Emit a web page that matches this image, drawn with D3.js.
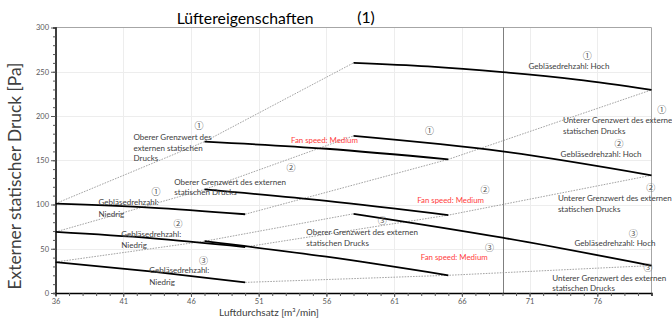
<!DOCTYPE html>
<html><head><meta charset="utf-8">
<script src="https://cdn.jsdelivr.net/npm/d3@7/dist/d3.min.js"></script>
<style>body{margin:0;background:#fff} svg{display:block}</style>
</head><body>
<svg id="chart" width="672" height="318"></svg>
<script>
// ---------- data ----------
const xTicks = [36, 41, 46, 51, 56, 61, 66, 71, 76];
const yTicks = [0, 50, 100, 150, 200, 250, 300];
const xDomain = [36, 80];
const yDomain = [0, 300];
const markerX = 69;

// fan curves (airflow m³/min, pressure Pa) for tap ①②③
const fanLow = [
  [[36, 101], [43, 96.5], [50, 89]],
  [[36, 69], [43, 62], [50, 52]],
  [[36, 35], [43, 24.5], [50, 12]]
];
const fanMedium = [
  [[47, 171], [56, 163], [65, 151]],
  [[47, 117], [56, 104], [65, 88]],
  [[47, 58.5], [56, 41], [65, 20]]
];
const fanHigh = [
  [[58, 260], [63.5, 256], [69, 249.5], [74.5, 241], [80, 229.5]],
  [[58, 177.5], [69, 160], [80, 133]],
  [[58, 89.5], [69, 62.5], [80, 31]]
];

// annotations: [text, x, y, kind]  kind: n = circled number, t = grey text, r = red text
const annotations = [
  ["①", 46.6, 188.6, "n"],
  ["Oberer Grenzwert des", 41.76, 176.4, "t"],
  ["externen statischen", 41.76, 163.9, "t"],
  ["Drucks", 41.76, 152.6, "t"],
  ["Fan speed: Medium", 53.39, 172.1, "r"],
  ["①", 63.61, 182.9, "n"],
  ["①", 75.26, 268.4, "n"],
  ["Gebläsedrehzahl: Hoch", 70.92, 256, "t"],
  ["①", 80.75, 207, "n"],
  ["Unterer Grenzwert des externen", 73.46, 195, "t"],
  ["statischen Drucks", 73.46, 182.6, "t"],
  ["②", 77.6, 168.7, "n"],
  ["Gebläsedrehzahl: Hoch", 73.29, 157.4, "t"],
  ["②", 53.39, 141.1, "n"],
  ["Oberer Grenzwert des externen", 44.77, 125, "t"],
  ["statischen Drucks", 44.77, 114.3, "t"],
  ["①", 43.42, 114.5, "n"],
  ["Gebläsedrehzahl:", 39.18, 102.1, "t"],
  ["Niedrig", 39.18, 88.5, "t"],
  ["②", 45.04, 78.2, "n"],
  ["Gebläsedrehzahl:", 40.85, 66.3, "t"],
  ["Niedrig", 40.85, 53.9, "t"],
  ["③", 46.93, 36.8, "n"],
  ["Gebläsedrehzahl:", 42.92, 25.6, "t"],
  ["Niedrig", 42.92, 12.4, "t"],
  ["②", 67.7, 116, "n"],
  ["Fan speed: Medium", 62.7, 104.7, "r"],
  ["③", 60.12, 81, "n"],
  ["Oberer Grenzwert des externen", 54.52, 68.2, "t"],
  ["statischen Drucks", 54.52, 55.8, "t"],
  ["③", 68.04, 50.8, "n"],
  ["Fan speed: Medium", 62.97, 40, "r"],
  ["②", 79.94, 118.3, "n"],
  ["Unterer Grenzwert des externen", 73.09, 106.6, "t"],
  ["statischen Drucks", 73.09, 94.2, "t"],
  ["③", 78.66, 67.1, "n"],
  ["Gebläsedrehzahl: Hoch", 74.32, 55.8, "t"],
  ["③", 79.74, 28, "n"],
  ["Unterer Grenzwert des externen", 72.68, 16.9, "t"],
  ["statischen Drucks", 72.68, 5.6, "t"]
];

const titleText = "Lüftereigenschaften";
const titleNote = "(1)";
const xLabel = "Luftdurchsatz [m³/min]";
const yLabel = "Externer statischer Druck [Pa]";

// ---------- drawing ----------
const svg = d3.select("#chart");
const L = 55.5, R = 651.5, T = 27.5, B = 293;
const x = d3.scaleLinear().domain(xDomain).range([L, R]);
const y = d3.scaleLinear().domain(yDomain).range([B, T]);
const FONT = "Lato, 'Open Sans', sans-serif";

function fitFont(sel, target) {
  const len = sel.node().getComputedTextLength();
  const fs = parseFloat(sel.attr("font-size"));
  return fs * target / len;
}

// grid
svg.append("g").selectAll("line").data(xTicks.slice(1)).join("line")
  .attr("x1", d => Math.round(x(d)) + 0.5).attr("x2", d => Math.round(x(d)) + 0.5)
  .attr("y1", T).attr("y2", B).attr("stroke", "#ededed").attr("stroke-width", 1);
svg.append("g").selectAll("line").data(yTicks.slice(1, -1)).join("line")
  .attr("x1", L).attr("x2", R)
  .attr("y1", d => Math.round(y(d)) + 0.5).attr("y2", d => Math.round(y(d)) + 0.5)
  .attr("stroke", "#ededed").attr("stroke-width", 1);

// frame top & right
svg.append("line").attr("x1", L).attr("x2", R).attr("y1", T).attr("y2", T)
  .attr("stroke", "#a6a6a6").attr("stroke-width", 1);
svg.append("line").attr("x1", R).attr("x2", R).attr("y1", T).attr("y2", B)
  .attr("stroke", "#a6a6a6").attr("stroke-width", 1);

// marker vertical line
svg.append("line").attr("x1", Math.round(x(markerX)) + 0.5).attr("x2", Math.round(x(markerX)) + 0.5)
  .attr("y1", T).attr("y2", B).attr("stroke", "#7f7f7f").attr("stroke-width", 1);

// axes
const xMinor = d3.range(xDomain[0], xDomain[1] + 1, 1);
const yMinor = d3.range(yDomain[0], yDomain[1] + 1, 10);
const xAxis = svg.append("g").attr("transform", `translate(0,${B})`)
  .call(d3.axisBottom(x).tickValues(xMinor).tickSize(3).tickFormat(""));
xAxis.select(".domain").attr("stroke", "#000").attr("stroke-width", 1.5);
xAxis.selectAll(".tick line").attr("stroke", "#595959");
const xAxisLab = svg.append("g").attr("transform", `translate(0,${B})`)
  .call(d3.axisBottom(x).tickValues(xTicks).tickSize(4).tickPadding(2).tickFormat(d3.format("d")));
xAxisLab.select(".domain").remove();
xAxisLab.selectAll(".tick line").attr("stroke", "#595959");
xAxisLab.selectAll("text").attr("font-family", FONT).attr("font-size", 7.5).attr("fill", "#595959");

const yAxis = svg.append("g").attr("transform", `translate(${L},0)`)
  .call(d3.axisLeft(y).tickValues(yMinor).tickSize(2.5).tickFormat(""));
yAxis.select(".domain").attr("stroke", "#000").attr("stroke-width", 1.5);
yAxis.selectAll(".tick line").attr("stroke", "#595959");
const yAxisLab = svg.append("g").attr("transform", `translate(${L},0)`)
  .call(d3.axisLeft(y).tickValues(yTicks).tickSize(4.5).tickPadding(2).tickFormat(d3.format("d")));
yAxisLab.select(".domain").remove();
yAxisLab.selectAll(".tick line").attr("stroke", "#595959");
yAxisLab.selectAll("text").attr("font-family", FONT).attr("font-size", 7.5).attr("fill", "#595959");

// limit lines (dashed) connecting curve ends
const upperLimits = fanLow.map((c, i) => [fanLow[i][0], fanMedium[i][0], fanHigh[i][0]]);
const lowerLimits = fanLow.map((c, i) => [fanLow[i][fanLow[i].length - 1],
  fanMedium[i][fanMedium[i].length - 1], fanHigh[i][fanHigh[i].length - 1]]);
const straight = d3.line().x(d => x(d[0])).y(d => y(d[1]));
svg.append("g").selectAll("path").data(upperLimits.concat(lowerLimits)).join("path")
  .attr("d", straight).attr("fill", "none").attr("stroke", "#8c8c8c")
  .attr("stroke-width", 0.8).attr("stroke-dasharray", "1.6,1.2");

// fan curves
const curve = d3.line().x(d => x(d[0])).y(d => y(d[1])).curve(d3.curveMonotoneX);
svg.append("g").selectAll("path").data(fanLow.concat(fanMedium, fanHigh)).join("path")
  .attr("d", curve).attr("fill", "none").attr("stroke", "#000").attr("stroke-width", 1.8);

// annotations
const gA = svg.append("g");
const probeT = gA.append("text").attr("font-family", FONT).attr("font-size", 10).text("Gebläsedrehzahl: Hoch");
const fsT = fitFont(probeT, 81); probeT.remove();
const probeR = gA.append("text").attr("font-family", FONT).attr("font-size", 10).text("Fan speed: Medium");
const fsR = fitFont(probeR, 67); probeR.remove();

annotations.forEach(([txt, ax, ay, kind]) => {
  const t = gA.append("text").attr("x", x(ax)).attr("y", y(ay)).attr("dy", "0.35em").text(txt);
  if (kind === "n") {
    t.attr("text-anchor", "middle").attr("font-family", "'Noto Sans CJK JP', 'DejaVu Sans', sans-serif")
      .attr("font-size", 9).attr("font-weight", 400).attr("fill", "#505050");
  } else if (kind === "r") {
    t.attr("font-family", FONT).attr("font-size", fsR).attr("fill", "#ff3c3c");
  } else {
    t.attr("font-family", FONT).attr("font-size", fsT).attr("fill", "#404040");
  }
});

// titles
const tt = svg.append("text").attr("x", 176.7).attr("y", 18).attr("dy", "0.35em")
  .attr("font-family", FONT).attr("font-size", 15).attr("fill", "#000").text(titleText);
tt.attr("font-size", fitFont(tt, 137));
svg.append("text").attr("x", 366).attr("y", 17).attr("dy", "0.35em").attr("text-anchor", "middle")
  .attr("font-family", FONT).attr("font-size", tt.attr("font-size")).attr("fill", "#000").text(titleNote);

const xl = svg.append("text").attr("x", 269).attr("y", 312).attr("dy", "0.35em").attr("text-anchor", "middle")
  .attr("font-family", FONT).attr("font-size", 11).attr("fill", "#404040").text(xLabel);
xl.attr("font-size", fitFont(xl, 100));

const yl = svg.append("text").attr("transform", "translate(15,176) rotate(-90)").attr("dy", "0.35em")
  .attr("text-anchor", "middle").attr("font-family", FONT).attr("font-size", 13)
  .attr("fill", "#404040").text(yLabel);
yl.attr("font-size", fitFont(yl, 227));
</script>
</body></html>
